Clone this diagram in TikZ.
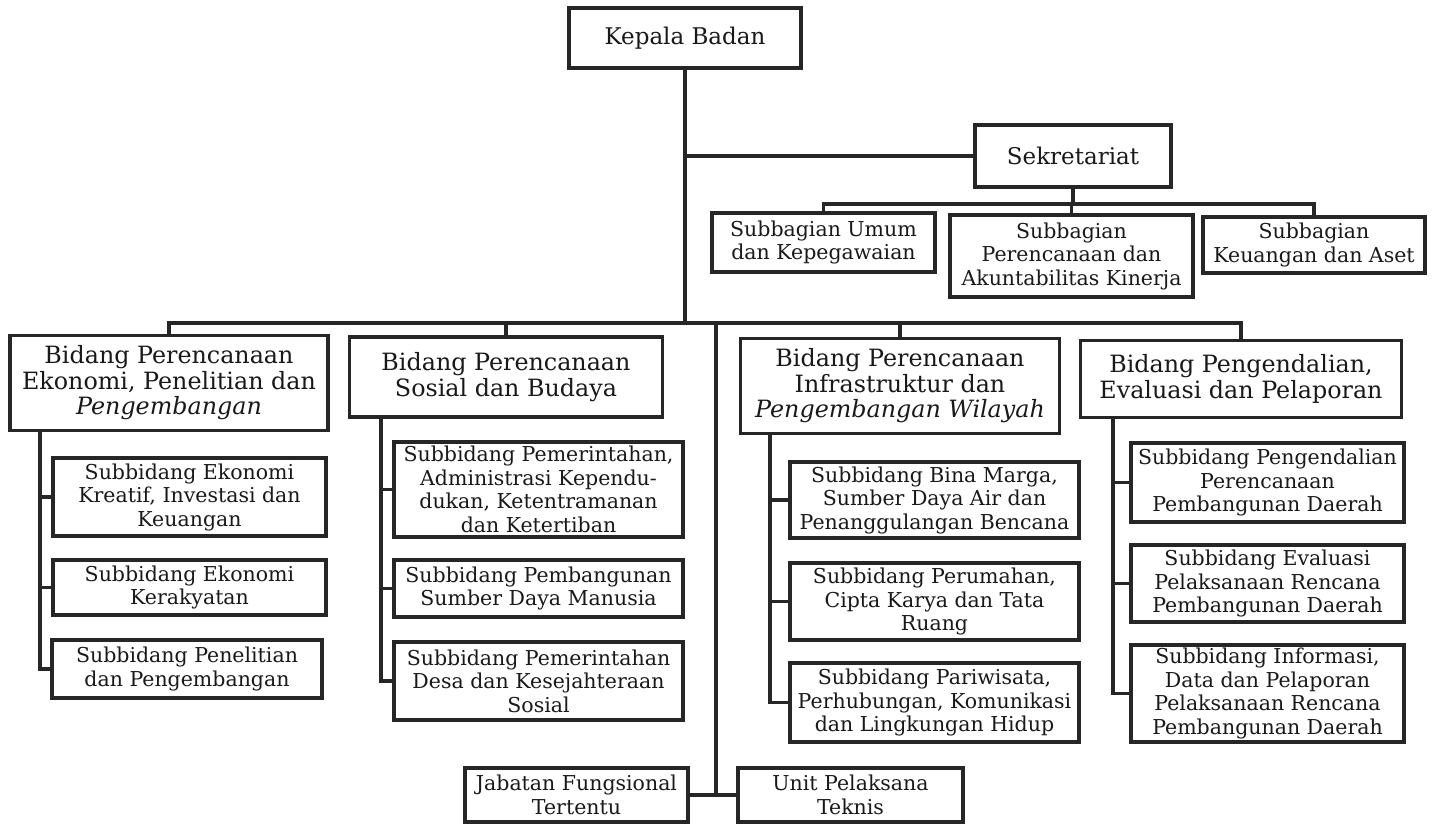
\documentclass[tikz,border=0pt]{standalone}
\usepackage{fontspec}
\setmainfont{DejaVu Serif}
\usetikzlibrary{shadows}
\newcommand{\fkepala}{\fontsize{23}{27}\selectfont}
\newcommand{\fbidang}{\fontsize{23.8}{25.5}\selectfont}
\newcommand{\fsub}{\fontsize{20.5}{23.5}\selectfont}

\begin{document}
\begin{tikzpicture}[x=1pt,y=-1pt,
  unit/.style={draw=black!85, line width=3.5pt, fill=white, align=center, inner sep=0pt, text=black!90,
    drop shadow={shadow xshift=0.8pt, shadow yshift=-1.8pt, fill=black!85, opacity=1}},
  link/.style={draw=black!85, line width=3.5pt, line cap=rect}]
  \useasboundingbox (0,0) rectangle (1434,825);

  \node[unit, font=\fkepala, minimum width=232, minimum height=60] (kepala) at (685,38) {Kepala Badan};
  \node[unit, font=\fkepala, minimum width=196, minimum height=62] (sekre) at (1073,156) {Sekretariat};

  \node[unit, font=\fsub, minimum width=223, minimum height=59] (sbumum) at (823.5,242.5) {Subbagian Umum\\dan Kepegawaian};
  \node[unit, font=\fsub, minimum width=243, minimum height=82] (sbrenc) at (1071.5,256) {Subbagian\\Perencanaan dan\\Akuntabilitas Kinerja};
  \node[unit, font=\fsub, minimum width=222, minimum height=56] (sbkeu) at (1314,245) {Subbagian\\Keuangan dan Aset};

  % bidang
  \node[unit, font=\fbidang, minimum width=318, minimum height=95] (b1) at (169,383) {Bidang Perencanaan\\Ekonomi, Penelitian dan\\\textit{Pengembangan}};
  \node[unit, font=\fbidang, minimum width=313, minimum height=80] (b2) at (506,377) {Bidang Perencanaan\\Sosial dan Budaya};
  \node[unit, font=\fbidang, minimum width=319, minimum height=95] (b3) at (900,386) {Bidang Perencanaan\\Infrastruktur dan\\\textit{Pengembangan Wilayah}};
  \node[unit, font=\fbidang, minimum width=321, minimum height=77] (b4) at (1241,379) {Bidang Pengendalian,\\Evaluasi dan Pelaporan};

  % subbidang
  \node[unit, font=\fsub, minimum width=273, minimum height=78] (s11) at (189.5,497) {Subbidang Ekonomi\\Kreatif, Investasi dan\\Keuangan};
  \node[unit, font=\fsub, minimum width=273, minimum height=55] (s12) at (189.5,587.5) {Subbidang Ekonomi\\Kerakyatan};
  \node[unit, font=\fsub, minimum width=270, minimum height=58] (s13) at (187,669) {Subbidang Penelitian\\dan Pengembangan};

  \node[unit, font=\fsub, minimum width=289, minimum height=95] (s21) at (538.5,489.5) {Subbidang Pemerintahan,\\Administrasi Kependu-\\dukan, Ketentramanan\\dan Ketertiban};
  \node[unit, font=\fsub, minimum width=289, minimum height=57] (s22) at (538.5,588.5) {Subbidang Pembangunan\\Sumber Daya Manusia};
  \node[unit, font=\fsub, minimum width=289, minimum height=78] (s23) at (538.5,681) {Subbidang Pemerintahan\\Desa dan Kesejahteraan\\Sosial};

  \node[unit, font=\fsub, minimum width=289, minimum height=76] (s31) at (934.5,500) {Subbidang Bina Marga,\\Sumber Daya Air dan\\Penanggulangan Bencana};
  \node[unit, font=\fsub, minimum width=289, minimum height=77] (s32) at (934.5,601.5) {Subbidang Perumahan,\\Cipta Karya dan Tata\\Ruang};
  \node[unit, font=\fsub, minimum width=289, minimum height=79] (s33) at (934.5,702.5) {Subbidang Pariwisata,\\Perhubungan, Komunikasi\\dan Lingkungan Hidup};

  \node[unit, font=\fsub, minimum width=273, minimum height=79] (s41) at (1267.5,482.5) {Subbidang Pengendalian\\Perencanaan\\Pembangunan Daerah};
  \node[unit, font=\fsub, minimum width=273, minimum height=77] (s42) at (1267.5,583.5) {Subbidang Evaluasi\\Pelaksanaan Rencana\\Pembangunan Daerah};
  \node[unit, font=\fsub, minimum width=273, minimum height=97] (s43) at (1267.5,693.5) {Subbidang Informasi,\\Data dan Pelaporan\\Pelaksanaan Rencana\\Pembangunan Daerah};

  \node[unit, font=\fsub, minimum width=223, minimum height=54] (jab) at (576.5,795) {Jabatan Fungsional\\Tertentu};
  \node[unit, font=\fsub, minimum width=225, minimum height=54] (upt) at (850.5,795) {Unit Pelaksana\\Teknis};

  % lines
  \coordinate (hub) at (685,323);
  \coordinate (low) at (716,323);
  \coordinate (sbbus) at (0,204);
  \draw[link] (kepala.south) -- (hub);
  \draw[link] (kepala.south |- sekre.west) -- (sekre.west);
  \draw[link] (sekre.south) -- (sekre.south |- sbbus);
  \draw[link] (sbumum.north |- sbbus) -- (sbkeu.north |- sbbus);
  \foreach \n in {sbumum,sbrenc,sbkeu}
    \draw[link] (\n.north |- sbbus) -- (\n.north);
  \draw[link] (b1.north |- hub) -- (b4.north |- hub);
  \foreach \n in {b1,b2,b3,b4}
    \draw[link] (\n.north |- hub) -- (\n.north);
  \draw[link] (low) -- (low |- jab.east);
  \draw[link] (jab.east) -- (upt.west);

  \coordinate (t1) at (40,0);
  \coordinate (t2) at (381,0);
  \coordinate (t3) at (770,0);
  \coordinate (t4) at (1113,0);
  \draw[link] (t1 |- b1.south) |- (s13.west);
  \draw[link] (t2 |- b2.south) |- (s23.west);
  \draw[link] (t3 |- b3.south) |- (s33.west);
  \draw[link] (t4 |- b4.south) |- (s43.west);
  \foreach \n/\t in {s11/t1,s12/t1,s21/t2,s22/t2,s31/t3,s32/t3,s41/t4,s42/t4}
    \draw[link] (\t |- \n.west) -- (\n.west);
\end{tikzpicture}
\end{document}
